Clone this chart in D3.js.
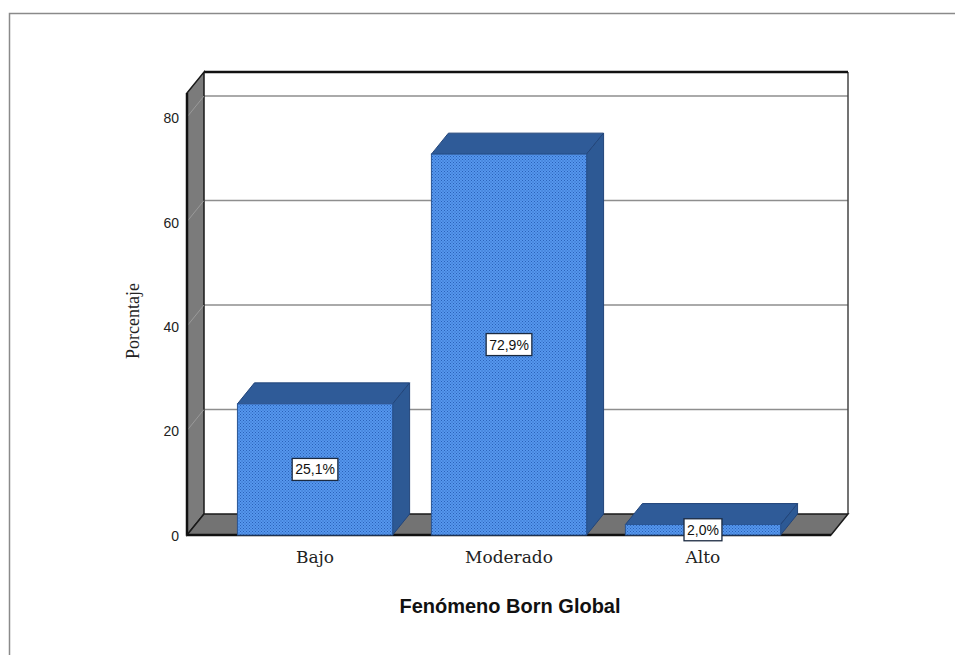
<!DOCTYPE html>
<html>
<head>
<meta charset="utf-8">
<script src="https://cdn.jsdelivr.net/npm/d3@7"></script>
<style>
  html, body { margin: 0; padding: 0; background: #fff; }
  svg { display: block; }
</style>
</head>
<body>
<svg id="chart" width="955" height="655"></svg>
<script>
// ---- data ----
const categories = ["Bajo", "Moderado", "Alto"];
const values = [25.1, 72.9, 2.0];
const valueLabels = ["25,1%", "72,9%", "2,0%"];
const yTicks = [0, 20, 40, 60, 80];
const yTitle = "Porcentaje";
const xTitle = "Fenómeno Born Global";

// ---- layout ----
const svg = d3.select("#chart");
const DX = 17, DY = 21;            // 3D depth offset (back = front + (DX,-DY))
const x0 = 187, x1 = 831;          // front floor extent
const yMax = 84.6;

const x = d3.scaleBand().domain(categories).range([x0, x1])
  .paddingInner(0.2).paddingOuter(0.26);
const y = d3.scaleLinear().domain([0, yMax]).range([535, 93]);

// outer frame
svg.append("rect").attr("x", 9.5).attr("y", 13.5).attr("width", 960).attr("height", 660)
  .attr("fill", "none").attr("stroke", "#8a8a8a").attr("stroke-width", 1.5);

// pattern for bar fronts
const defs = svg.append("defs");
const pat = defs.append("pattern").attr("id", "dots").attr("patternUnits", "userSpaceOnUse")
  .attr("width", 3).attr("height", 3);
pat.append("rect").attr("width", 3).attr("height", 3).attr("fill", "#5597ee");
pat.append("rect").attr("x", 0).attr("y", 0).attr("width", 1).attr("height", 1).attr("fill", "#2b62b8");
pat.append("rect").attr("x", 1.5).attr("y", 1.5).attr("width", 1).attr("height", 1).attr("fill", "#2b62b8");

const g = svg.append("g");
const yBack = v => y(v) - DY;

// back wall
g.append("rect").attr("x", x0 + DX).attr("y", yBack(yMax)).attr("width", x1 - x0)
  .attr("height", y(0) - y(yMax)).attr("fill", "#ffffff");

// back wall gridlines
g.selectAll(".grid").data(yTicks.filter(d => d > 0)).join("line")
  .attr("x1", x0 + DX).attr("x2", x1 + DX)
  .attr("y1", d => yBack(d)).attr("y2", d => yBack(d))
  .attr("stroke", "#8e8e8e").attr("stroke-width", 1.5);

// right edge of back wall
g.append("line").attr("x1", x1 + DX).attr("x2", x1 + DX)
  .attr("y1", yBack(yMax)).attr("y2", yBack(0))
  .attr("stroke", "#444").attr("stroke-width", 1.5);
// top edge of back wall
g.append("line").attr("x1", x0 + DX).attr("x2", x1 + DX)
  .attr("y1", yBack(yMax)).attr("y2", yBack(yMax))
  .attr("stroke", "#111").attr("stroke-width", 2.5);

// left wall
g.append("path")
  .attr("d", `M${x0},${y(yMax)} L${x0 + DX},${yBack(yMax)} L${x0 + DX},${yBack(0)} L${x0},${y(0)} Z`)
  .attr("fill", "#7b7b7b").attr("stroke", "#1a1a1a").attr("stroke-width", 1.5);
g.selectAll(".lgrid").data(yTicks.filter(d => d > 0)).join("line")
  .attr("x1", x0 + DX).attr("x2", x0)
  .attr("y1", d => yBack(d)).attr("y2", d => y(d))
  .attr("stroke", "#9a9a9a").attr("stroke-width", 1);
g.append("line").attr("x1", x0).attr("x2", x0).attr("y1", y(yMax)).attr("y2", y(0))
  .attr("stroke", "#111").attr("stroke-width", 2.5);

// floor
g.append("path")
  .attr("d", `M${x0},${y(0)} L${x0 + DX},${yBack(0)} L${x1 + DX},${yBack(0)} L${x1},${y(0)} Z`)
  .attr("fill", "#737373").attr("stroke", "#1a1a1a").attr("stroke-width", 1.5);
g.append("line").attr("x1", x0).attr("x2", x1).attr("y1", y(0)).attr("y2", y(0))
  .attr("stroke", "#111").attr("stroke-width", 2.5);

// bars
const bars = g.selectAll(".bar").data(categories.map((c, i) => ({ c, v: values[i], l: valueLabels[i] })))
  .join("g");
const bw = x.bandwidth();
bars.append("path") // top face
  .attr("d", d => {
    const xl = x(d.c), yt = y(d.v);
    return `M${xl},${yt} L${xl + DX},${yt - DY} L${xl + bw + DX},${yt - DY} L${xl + bw},${yt} Z`;
  })
  .attr("fill", "#2f5b98").attr("stroke", "#22457a").attr("stroke-width", 1);
bars.append("path") // side face
  .attr("d", d => {
    const xr = x(d.c) + bw, yt = y(d.v), yb = y(0);
    return `M${xr},${yt} L${xr + DX},${yt - DY} L${xr + DX},${yb - DY} L${xr},${yb} Z`;
  })
  .attr("fill", "#2d5994").attr("stroke", "#22457a").attr("stroke-width", 1);
bars.append("rect") // front face
  .attr("x", d => x(d.c)).attr("y", d => y(d.v))
  .attr("width", bw).attr("height", d => y(0) - y(d.v))
  .attr("fill", "url(#dots)").attr("stroke", "#2a5593").attr("stroke-width", 1);

// value labels
bars.each(function (d) {
  const sel = d3.select(this);
  const cx = x(d.c) + bw / 2, cy = (y(d.v) + y(0)) / 2;
  const t = sel.append("text").attr("x", cx).attr("y", cy).attr("dy", "0.36em")
    .attr("text-anchor", "middle").attr("font-family", "Arial, 'Liberation Sans', sans-serif")
    .attr("font-size", 14).attr("fill", "#111").text(d.l);
  const bb = t.node().getBBox();
  sel.insert("rect", "text").attr("x", bb.x - 3).attr("y", cy - 11).attr("width", bb.width + 6)
    .attr("height", 22).attr("fill", "#fff").attr("stroke", "#1b2a40").attr("stroke-width", 1.3);
});

// y axis
const yAxis = d3.axisLeft(y).tickValues(yTicks).tickSize(0).tickPadding(0);
const ya = svg.append("g").attr("transform", "translate(179,1)").call(yAxis);
ya.select(".domain").remove();
ya.selectAll("text").attr("font-family", "Arial, 'Liberation Sans', sans-serif")
  .attr("font-size", 14).attr("fill", "#222");

// x category labels
svg.selectAll(".xlab").data(categories).join("text")
  .attr("x", d => x(d) + bw / 2).attr("y", 563)
  .attr("text-anchor", "middle").attr("font-family", "'DejaVu Serif', serif")
  .attr("font-size", 17).attr("fill", "#222").text(d => d);

// titles
svg.append("text").attr("x", 510).attr("y", 613).attr("text-anchor", "middle")
  .attr("font-family", "Arial, 'Liberation Sans', sans-serif").attr("font-weight", "bold")
  .attr("font-size", 20).attr("fill", "#111").text(xTitle);
svg.append("text").attr("transform", "translate(139,321) rotate(-90)")
  .attr("text-anchor", "middle").attr("font-family", "'Liberation Serif', 'Times New Roman', serif")
  .attr("font-size", 18).attr("fill", "#222").text(yTitle);
</script>
</body>
</html>
